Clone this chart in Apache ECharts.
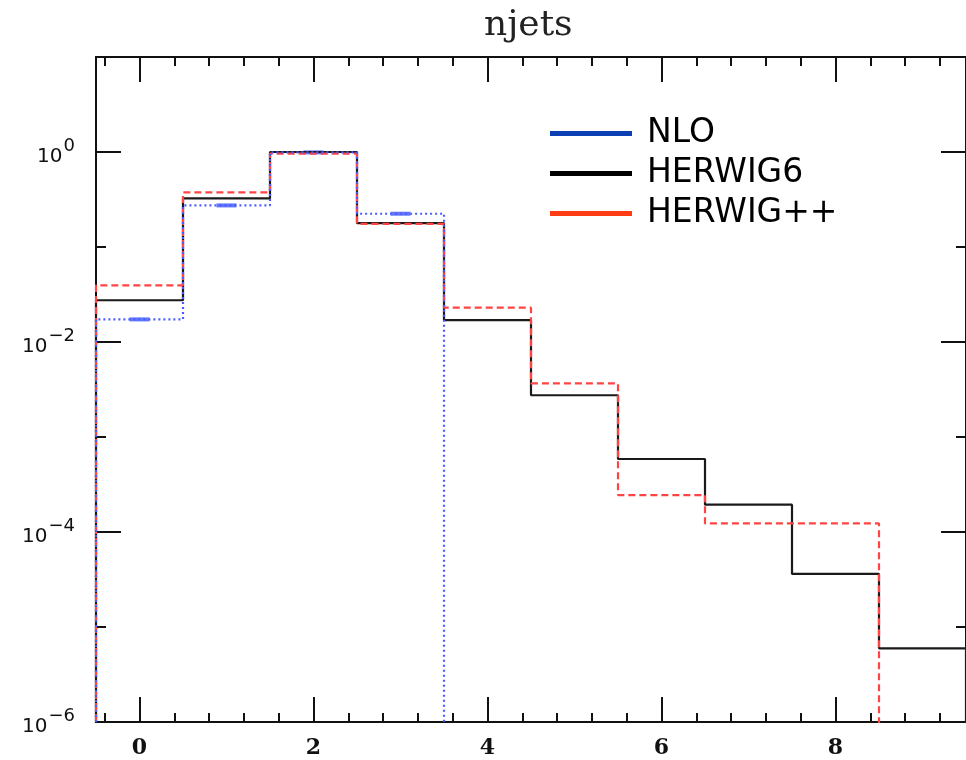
<!DOCTYPE html>
<html>
<head>
<meta charset="utf-8">
<script src="https://cdn.jsdelivr.net/npm/echarts@6/dist/echarts.min.js"></script>
<style>
html, body { margin: 0; padding: 0; background: #fff; }
#chart { width: 966px; height: 760px; }
</style>
</head>
<body>
<div id="chart"></div>
<script>
// njets histogram (log y), one value per unit-width bin centred on 0..9
const nloValues = [0.0173, 0.274, 0.99, 0.224];
const herwig6Values = [0.0275, 0.325, 1.0, 0.178, 0.0170, 0.00275, 5.87e-4, 1.94e-4, 3.62e-5, 5.96e-6];
const herwigppValues = [0.0395, 0.376, 0.96, 0.175, 0.023, 0.00366, 2.45e-4, 1.23e-4, 1.23e-4];

const xMajorTicks = [0, 2, 4, 6, 8];
const xMinorTicks = [-0.4, 0.4, 0.8, 1.2, 1.6, 2.4, 2.8, 3.2, 3.6, 4.4, 4.8, 5.2, 5.6, 6.4, 6.8, 7.2, 7.6, 8.4, 8.8, 9.2];
const yMajorTicks = [1e-6, 1e-4, 1e-2, 1];
const yMinorTicks = [1e-5, 1e-3, 1e-1, 10];

const FLOOR = 1e-9; // below the axis, so the outline drops off the bottom

// outline of a histogram: edges at i-0.5 / i+0.5
function stepOutline(values) {
    const pts = [[-0.5, FLOOR]];
    values.forEach((v, i) => {
        pts.push([i - 0.5, v]);
        pts.push([i + 0.5, v]);
    });
    pts.push([values.length - 0.5, FLOOR]);
    return pts;
}

function supLabel(v) {
    const e = Math.round(Math.log10(v));
    return '{b|10}{s|' + (e < 0 ? '\u2212' + (-e) : e) + '}';
}

const chart = echarts.init(document.getElementById('chart'));

const gridBox = { left: 96, top: 57, width: 875, height: 665 };
const frameLine = { show: true, onZero: false, lineStyle: { color: '#111', width: 2 } };

function xAx(gi, pos, ticks, len, labels) {
    return {
        type: 'value', gridIndex: gi, position: pos, min: -0.5, max: 9.5,
        axisLine: frameLine,
        axisTick: { show: true, inside: true, length: len, customValues: ticks, lineStyle: { color: '#111', width: 2 } },
        axisLabel: labels ? {
            show: true, customValues: ticks, margin: 15, color: '#111',
            fontFamily: 'DejaVu Serif', fontWeight: 'bold', fontSize: 22
        } : { show: false },
        splitLine: { show: false }
    };
}

function yAx(gi, pos, ticks, len, labels) {
    return {
        type: 'log', logBase: 10, gridIndex: gi, position: pos, min: 1e-6, max: 10,
        axisLine: frameLine,
        axisTick: { show: true, inside: true, length: len, customValues: ticks, lineStyle: { color: '#111', width: 2 } },
        axisLabel: labels ? {
            show: true, customValues: ticks, margin: 21, formatter: supLabel,
            rich: {
                b: { fontFamily: 'DejaVu Sans', fontSize: 20, color: '#111', verticalAlign: 'bottom', lineHeight: 30 },
                s: { fontFamily: 'DejaVu Sans', fontSize: 18, color: '#111', verticalAlign: 'top', lineHeight: 30, padding: [0, 0, 0, 1] }
            }
        } : { show: false },
        splitLine: { show: false }
    };
}

chart.setOption({
    backgroundColor: '#fff',
    animation: false,
    title: {
        text: 'njets', left: 479, top: 3,
        textStyle: { fontFamily: 'DejaVu Serif', fontWeight: 'normal', fontSize: 36, color: '#222' }
    },
    legend: {
        orient: 'vertical', left: 550, top: 117, padding: 0,
        icon: 'rect', itemWidth: 82, itemHeight: 5, itemGap: 7,
        textStyle: { fontFamily: 'DejaVu Sans', fontSize: 33, color: '#000', padding: [0, 0, 0, 10] },
        data: [
            { name: 'NLO', itemStyle: { color: '#0b3fb3' } },
            { name: 'HERWIG6', itemStyle: { color: '#000' } },
            { name: 'HERWIG++', itemStyle: { color: '#ff3c14' } }
        ]
    },
    grid: [Object.assign({}, gridBox), Object.assign({}, gridBox)],
    xAxis: [
        xAx(0, 'bottom', xMajorTicks, 25, true),
        xAx(0, 'top', xMajorTicks, 25, false),
        xAx(1, 'bottom', xMinorTicks, 9, false),
        xAx(1, 'top', xMinorTicks, 9, false)
    ],
    yAxis: [
        yAx(0, 'left', yMajorTicks, 25, true),
        yAx(0, 'right', yMajorTicks, 25, false),
        yAx(1, 'left', yMinorTicks, 10, false),
        yAx(1, 'right', yMinorTicks, 10, false)
    ],
    series: [
        {
            name: 'HERWIG6', type: 'line', xAxisIndex: 0, yAxisIndex: 0,
            data: stepOutline(herwig6Values), showSymbol: false, symbol: 'none',
            lineStyle: { color: '#1a1a1a', width: 2.2 }, itemStyle: { color: '#000' }
        },
        {
            name: 'HERWIG++', type: 'line', xAxisIndex: 0, yAxisIndex: 0,
            data: stepOutline(herwigppValues), showSymbol: false, symbol: 'none',
            lineStyle: { color: '#ff4444', width: 2.2, type: [7, 4] }, itemStyle: { color: '#ff3c14' }
        },
        {
            name: 'NLO', type: 'line', xAxisIndex: 0, yAxisIndex: 0,
            data: stepOutline(nloValues), showSymbol: false, symbol: 'none',
            lineStyle: { color: '#4a5cff', width: 2.2, type: [2, 3] }, itemStyle: { color: '#0b3fb3' }
        },
        {
            name: 'NLO centres', type: 'scatter', xAxisIndex: 0, yAxisIndex: 0,
            data: nloValues.map((v, i) => [i, v]),
            symbol: 'rect', symbolSize: [20, 4],
            itemStyle: { color: '#3a55ff' }
        }
    ]
});
</script>
</body>
</html>
